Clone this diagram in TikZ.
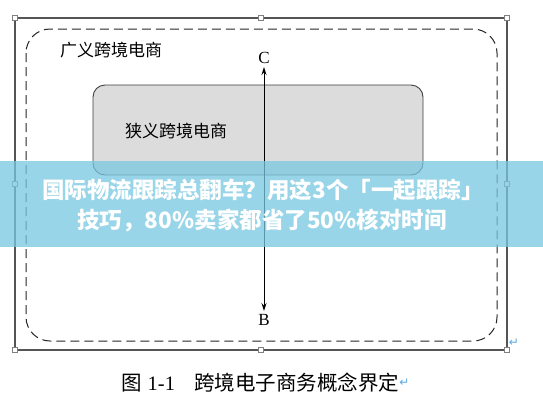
\documentclass[tikz,border=0pt]{standalone}
\usepackage{fontspec}
\setmainfont{Liberation Serif}
\newfontfamily\cjk{Noto Sans CJK SC}
\newfontfamily\symfont{DejaVu Sans}
\usetikzlibrary{arrows.meta}
\definecolor{framegray}{HTML}{555555}
\definecolor{boxgray}{HTML}{DCDCDC}
\definecolor{bannerblue}{RGB}{120,200,225}
\definecolor{retblue}{HTML}{5AA9E6}
\tikzset{
  framebox/.style={draw=framegray, line width=1.5pt},
  dashbox/.style={draw=black!85, line width=1pt, dash pattern=on 9pt off 5pt, rounded corners=24pt},
  innerbox/.style={draw=black!75, line width=0.9pt, fill=boxgray, rounded corners=12pt},
  handle/.style={draw=black!50, fill=white, line width=0.5pt, minimum size=5pt, inner sep=0pt},
  cjklabel/.style={font=\cjk\fontsize{17}{20}\selectfont, inner sep=0pt},
  letter/.style={font=\fontsize{17}{20}\selectfont, inner sep=0pt},
  dblarrow/.style={{Stealth[length=8pt,width=5pt]}-{Stealth[length=8pt,width=5pt]}, line width=1pt},
  bannertext/.style={font=\cjk\bfseries\fontsize{22.5}{26}\selectfont, text=white, inner sep=0pt},
  retmark/.style={font=\symfont\fontsize{12}{12}\selectfont, text=retblue, inner sep=0pt}
}
\begin{document}
\begin{tikzpicture}[x=1pt,y=-1pt]
\useasboundingbox (0,0) rectangle (543,408);
\fill[white] (0,0) rectangle (543,408);
% outer solid frame
\draw[framebox] (15,18) rectangle (507,350);
% dashed rounded box (broad)
\draw[dashbox] (26,29) rectangle (497,341);
% inner gray box (narrow)
\draw[innerbox] (93,85) rectangle (423,175);
% labels
\node[cjklabel] (broad) at (111,50) {广义跨境电商};
\node[cjklabel] (narrow) at (176,131) {狭义跨境电商};
\node[letter] (C) at (264,58) {C};
\node[letter] (B) at (264,320) {B};
\coordinate (ctip) at (264,67);
\coordinate (btip) at (264,311);
\draw[dblarrow] (ctip) -- (btip);
% selection handles
\foreach \hx/\hy [count=\i] in {15/18,261/18,507/18,15/184,507/184,15/350,261/350,507/350}
  \node[handle] (h\i) at (\hx,\hy) {};
% return marks
\node[retmark] (ret1) at (514,343) {↵};
% caption
\node[anchor=west, inner sep=0pt, font=\fontsize{20.5}{24}\selectfont] (cap) at (121,383)
  {{\cjk 图}\hspace{6pt}1-1\hspace{19pt}{\cjk 跨境电子商务概念界定}};
\node[retmark, anchor=west] (ret2) at (cap.east) {↵};
% overlay banner
\fill[bannerblue, opacity=0.75] (0,161) rectangle (543,247);
\node[bannertext] (title1) at (263,190) {国际物流跟踪总翻车？用这3个「一起跟踪」};
\node[bannertext] (title2) at (262,220) {技巧，80\%卖家都省了50\%核对时间};
\end{tikzpicture}
\end{document}
